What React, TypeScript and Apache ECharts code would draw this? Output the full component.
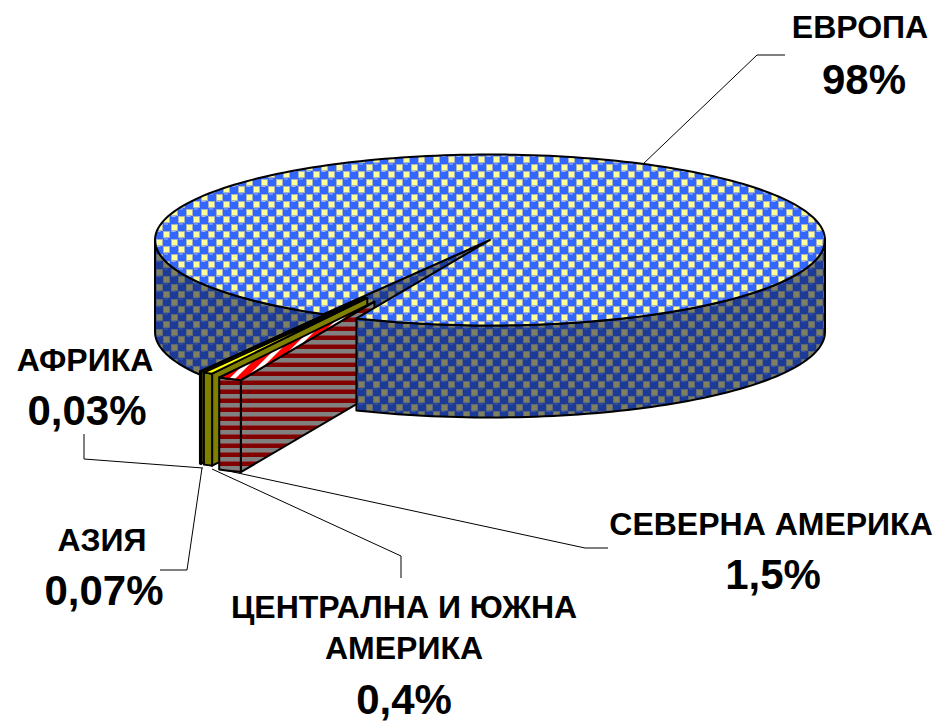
import React, { useEffect, useRef } from "react";
import * as echarts from "echarts";

const categories = ["ЕВРОПА", "АФРИКА", "АЗИЯ", "ЦЕНТРАЛНА И ЮЖНА\nАМЕРИКА", "СЕВЕРНА АМЕРИКА"];
const valueLabels = ["98%", "0,03%", "0,07%", "0,4%", "1,5%"];
const shareValues = [98, 0.03, 0.07, 0.4, 1.5];
// Sweep of the small slices as drawn in the picture, in degrees (Europe takes the rest).
const drawnSweeps = [0, 0.1, 0.1, 1.6, 4.1];
const explosions = [0, 0.765, 0.765, 0.77, 0.8];

const CX = 490, CY = 240, RX = 335, RY = 85.5, H = 92, START = 113.5;
const rad = (d: number) => (d * Math.PI) / 180;

function makeTile(w: number, h: number, draw: (c: CanvasRenderingContext2D) => void) {
  const cv = document.createElement("canvas");
  cv.width = w;
  cv.height = h;
  draw(cv.getContext("2d") as CanvasRenderingContext2D);
  return cv;
}
function dotTile(bg: string, ball: string, hi: string, square: string, edge: string) {
  return makeTile(15, 15, (c) => {
    c.fillStyle = bg;
    c.fillRect(0, 0, 15, 15);
    const squares = [[1, 9], [8.5, 1.5]];
    const balls = [[8.5, 9], [1, 1.5]];
    balls.forEach(([x, y]) => {
      [-15, 0, 15].forEach((dx) => [-15, 0, 15].forEach((dy) => {
        c.fillStyle = ball;
        c.beginPath();
        c.arc(x + dx, y + dy, 5.2, 0, Math.PI * 2);
        c.fill();
        c.fillStyle = hi;
        c.fillRect(x + dx - 2, y + dy - 3, 4, 1);
      }));
    });
    squares.forEach(([x, y]) => {
      [-15, 0, 15].forEach((dx) => [-15, 0, 15].forEach((dy) => {
        const px = Math.round(x + dx), py = Math.round(y + dy);
        c.fillStyle = edge;
        c.fillRect(px - 3, py - 3, 7, 7);
        c.fillStyle = square;
        c.fillRect(px - 2, py - 2, 5, 5);
      }));
    });
  });
}

function arc(cx: number, cy: number, from: number, to: number, dy = 0) {
  const pts: number[][] = [];
  const n = Math.max(2, Math.ceil(Math.abs(to - from) / 1.5));
  for (let i = 0; i <= n; i++) {
    const a = rad(from + ((to - from) * i) / n);
    pts.push([cx + RX * Math.cos(a), cy + dy + RY * Math.sin(a)]);
  }
  return pts;
}
const poly = (points: number[][], style: any, z2: number) => ({
  type: "polygon",
  z2,
  shape: { points },
  style: { stroke: "#000", lineWidth: 2, lineJoin: "round", ...style },
});

export default function App() {
  const ref = useRef<HTMLDivElement>(null);
  useEffect(() => {
    const chart = echarts.init(ref.current as HTMLDivElement, undefined, { renderer: "svg" });
    const topBlue = { image: dotTile("#3f70f0", "#3366ff", "#9db6ff", "#ffff99", "#a8b4b8"), repeat: "repeat" };
    const sideBlue = { image: dotTile("#2a4a90", "#1c3a96", "#3f5aa4", "#808060", "#5a6878"), repeat: "repeat" };
    const redSide = {
      image: makeTile(4, 9, (c) => {
        c.fillStyle = "#808080";
        c.fillRect(0, 0, 4, 9);
        c.fillStyle = "#800000";
        c.fillRect(0, 3, 4, 4);
        c.fillStyle = "#884040";
        c.fillRect(0, 2, 4, 1);
      }),
      repeat: "repeat",
    };
    const redTop = {
      image: makeTile(16, 16, (c) => {
        c.fillStyle = "#ff0000";
        c.fillRect(0, 0, 16, 16);
        c.fillStyle = "#ffffff";
        [-16, 0, 16].forEach((d) => {
          c.beginPath();
          c.moveTo(d, 16);
          c.lineTo(d + 16, 0);
          c.lineTo(d + 22, 0);
          c.lineTo(d + 6, 16);
          c.closePath();
          c.fill();
        });
      }),
      repeat: "repeat",
    };
    const slicePaint: any[] = [
      { top: topBlue, side: sideBlue },
      { top: "#404000", side: "#808000" },
      { top: "#404000", side: "#808000" },
      { top: "#ffff00", side: "#808000" },
      { top: redTop, side: redSide },
    ];

    // Angular ranges: the small slices run clockwise from START, last category first.
    const ranges: number[][] = categories.map(() => [0, 0]);
    let a = START;
    for (let i = categories.length - 1; i >= 1; i--) {
      ranges[i] = [a, a + drawnSweeps[i]];
      a += drawnSweeps[i];
    }
    ranges[0] = [a + 0.4, START + 360];

    const renderItem = (params: any, api: any) => {
      const i = params.dataIndex;
      const e = api.value(1) as number;
      const [from, to] = ranges[i];
      const mid = (from + to) / 2;
      const px = CX + e * RX * Math.cos(rad(mid));
      const py = CY + e * RY * Math.sin(rad(mid));
      const p = slicePaint[i];
      const children: any[] = [];
      const base = i * 10;
      if (i === 0) {
        // Cut wall and left skin lie behind the exploded slices; right skin and top lie in front.
        const w = arc(px, py, from, from)[0];
        children.push(poly([[px, py], w, [w[0], w[1] + H], [px, py + H]], { fill: p.side }, base));
        const left = arc(px, py, from, 180);
        const right = arc(px, py, 0, START);
        children.push(poly([...left, ...left.map(([x, y]) => [x, y + H]).reverse()], { fill: p.side }, base + 1));
        children.push(poly([...right, ...right.map(([x, y]) => [x, y + H]).reverse()], { fill: p.side }, 100));
        children.push(poly([[px, py], ...arc(px, py, from, to)], { fill: p.top }, 101));
      } else {
        const o = arc(px, py, from, from)[0];
        children.push(poly([[px, py], o, [o[0], o[1] + H], [px, py + H]], { fill: p.side }, base));
        const s = arc(px, py, from, to);
        children.push(poly([...s, ...s.map(([x, y]) => [x, y + H]).reverse()], { fill: p.side }, base + 1));
        children.push(poly([[px, py], ...s], { fill: p.top }, 110 + base));
      }
      return { type: "group", children };
    };

    const textEl = (text: string, x: number, y: number, size: number) => ({
      type: "text",
      x,
      y,
      style: {
        text,
        fill: "#000",
        font: `bold ${size}px "Liberation Sans", Arial, sans-serif`,
        align: "center",
        verticalAlign: "middle",
        lineHeight: 41,
      },
    });
    const leader = (points: number[][]) => ({
      type: "polyline",
      shape: { points },
      style: { stroke: "#000", lineWidth: 1, fill: "none" },
    });

    chart.setOption({
      animation: false,
      backgroundColor: "#fff",
      series: [
        {
          type: "custom",
          coordinateSystem: "none",
          renderItem,
          silent: true,
          clip: false,
          data: categories.map((name, i) => ({ name, value: [shareValues[i], explosions[i]] })),
        },
      ],
      graphic: [
        leader([[642, 165], [757, 55], [785, 55]]),
        leader([[203, 468], [84, 459], [84, 434]]),
        leader([[202, 468], [187, 570], [160, 570]]),
        leader([[212, 469], [401, 556], [401, 578]]),
        leader([[224, 470], [585, 548], [608, 548]]),
        textEl(categories[0], 860, 27, 32),
        textEl(valueLabels[0], 864, 79, 42),
        textEl(categories[1], 85, 360, 32),
        textEl(valueLabels[1], 87, 410, 42),
        textEl(categories[2], 102, 540, 32),
        textEl(valueLabels[2], 104, 590, 42),
        textEl(categories[3], 404, 627, 32),
        textEl(valueLabels[3], 404, 699, 42),
        textEl(categories[4], 771, 524, 32),
        textEl(valueLabels[4], 773, 574, 42),
      ],
    });
    return () => chart.dispose();
  }, []);
  return <div ref={ref} style={{ position: "fixed", left: 0, top: 0, width: 943, height: 722 }} />;
}
